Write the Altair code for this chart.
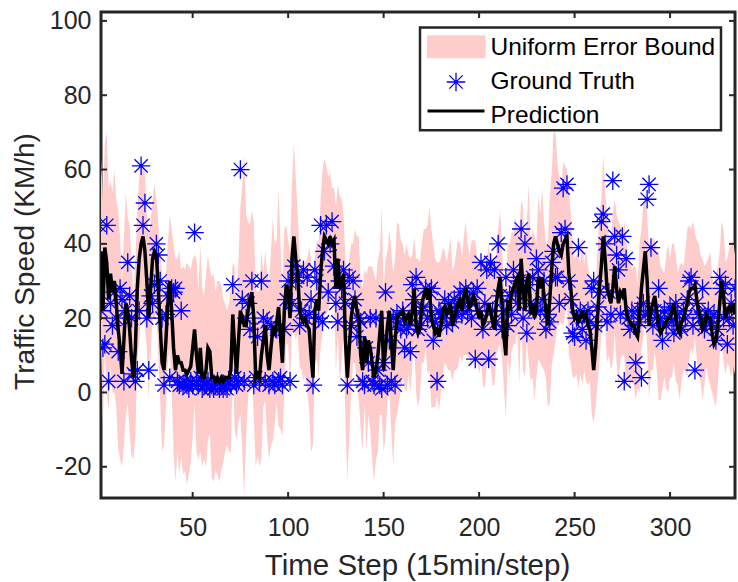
import altair as alt
import pandas as pd

steps = list(range(1, 335))

prediction = [
    20, 38, 22, 39, 35, 25, 32, 27, 30, 24,
    17, 12, 5, 14, 24, 22, 17, 9, 4, 12,
    28, 36, 40, 42, 38, 30, 20, 28, 36, 38,
    37, 28, 18, 8, 6, 14, 24, 30, 22, 12,
    6, 10, 8, 8, 6, 6, 5, 6, 7, 12,
    17, 10, 5, 12, 4, 4, 6, 12, 11, 4,
    4, 3, 4, 3, 4, 3, 4, 4, 4, 6,
    21, 12, 5, 14, 22, 20, 18, 18, 22, 25,
    27, 20, 4, 5, 4, 10, 14, 18, 10, 6,
    12, 17, 16, 19, 23, 15, 8, 22, 29, 27,
    20, 36, 42, 36, 32, 22, 20, 19, 20, 18,
    17, 10, 4, 22, 25, 22, 32, 38, 42, 41,
    40, 42, 40, 41, 28, 36, 28, 30, 32, 14,
    4, 12, 20, 24, 26, 22, 20, 10, 6, 15,
    8, 14, 12, 8, 4, 6, 10, 16, 22, 6,
    12, 18, 22, 14, 6, 14, 20, 21, 21, 22,
    19, 20, 21, 18, 22, 28, 18, 16, 17, 24,
    26, 28, 25, 28, 20, 18, 16, 17, 15, 18,
    22, 23, 21, 22, 24, 18, 20, 22, 24, 25,
    22, 26, 28, 25, 23, 24, 26, 25, 22, 20,
    22, 18, 19, 21, 24, 22, 19, 17, 24, 28,
    31, 24, 15, 10, 25, 22, 27, 28, 30, 31,
    22, 36, 28, 22, 30, 32, 21, 24, 20, 22,
    31, 28, 31, 26, 22, 18, 25, 33, 40, 42,
    40, 38, 37, 40, 41, 42, 32, 28, 22, 20,
    21, 19, 20, 22, 20, 21, 18, 17, 12, 6,
    12, 20, 28, 34, 42, 36, 28, 26, 24, 28,
    34, 28, 24, 27, 26, 28, 22, 20, 19, 18,
    18, 16, 15, 20, 28, 33, 38, 30, 18, 22,
    24, 26, 22, 18, 16, 17, 18, 19, 20, 20,
    22, 24, 20, 17, 16, 19, 20, 22, 24, 27,
    28, 28, 29, 25, 22, 20, 17, 18, 21, 20,
    20, 16, 13, 14, 18, 24, 30, 26, 20, 22,
    23, 22, 24, 21,
]

ground_truth = [
    45, 22, 12, 13, 45, 3, 24, 18, 27, 20,
    11, 28, 25, 3, 22, 35, 26, 20, 5, 3,
    6, 22, 61, 45, 51, 20, 6, 26, 24, 29,
    40, 37, 30, 20, 2, 21, 26, 4, 28, 27,
    28, 3, 2, 22, 2, 3, 2, 1, 3, 2,
    43, 3, 2, 4, 1, 2, 2, 3, 1, 2,
    1, 2, 3, 1, 2, 1, 2, 1, 3, 2,
    29, 4, 2, 3, 60, 25, 3, 20, 24, 17,
    30, 2, 4, 15, 3, 30, 20, 3, 19, 2,
    18, 3, 2, 17, 3, 4, 2, 17, 25, 30,
    3, 24, 34, 30, 31, 18, 22, 33, 20, 31,
    21, 25, 2, 33, 30, 20, 45, 19, 38, 45,
    27, 40, 46, 34, 24, 19, 30, 28, 33, 24,
    2, 31, 18, 30, 25, 15, 20, 19, 3, 2,
    12, 8, 20, 3, 2, 20, 6, 2, 1, 8,
    27, 2, 14, 3, 20, 2, 21, 19, 17, 22,
    12, 17, 18, 11, 29, 25, 31, 17, 18, 22,
    23, 28, 20, 27, 28, 14, 19, 3, 22, 21,
    20, 25, 18, 24, 22, 19, 25, 21, 23, 27,
    21, 24, 28, 22, 25, 20, 27, 9, 28, 22,
    35, 17, 24, 33, 9, 35, 22, 33, 19, 40,
    26, 17, 22, 31, 18, 26, 21, 33, 27, 24,
    30, 44, 20, 40, 16, 29, 24, 31, 22, 36,
    33, 22, 25, 30, 17, 21, 19, 35, 38, 31,
    31, 24, 43, 55, 44, 56, 30, 25, 16, 15,
    20, 39, 22, 17, 21, 14, 22, 19, 28, 30,
    18, 23, 27, 46, 48, 40, 19, 27, 21, 57,
    42, 37, 33, 21, 42, 3, 36, 20, 17, 22,
    18, 8, 22, 19, 4, 24, 21, 52, 56, 39,
    18, 22, 20, 28, 20, 14, 22, 18, 20, 23,
    19, 16, 24, 21, 18, 17, 22, 20, 25, 30,
    31, 18, 6, 24, 21, 20, 28, 17, 19, 22,
    20, 18, 21, 14, 17, 31, 28, 20, 29, 13,
    20, 24, 18, 28,
]

bound_half_width = [
    18, 25, 30, 28, 35, 30, 25, 27, 30, 28,
    32, 30, 25, 28, 30, 25, 28, 26, 22, 24,
    20, 22, 20, 19, 21, 18, 22, 18, 16, 18,
    15, 18, 20, 24, 20, 18, 16, 18, 22, 28,
    30, 26, 30, 25, 28, 27, 30, 28, 26, 24,
    20, 26, 23, 28, 24, 22, 26, 25, 22, 27,
    28, 24, 26, 27, 25, 22, 20, 18, 20, 22,
    14, 22, 18, 22, 28, 36, 46, 30, 24, 20,
    22, 26, 24, 22, 24, 28, 18, 20, 22, 24,
    26, 30, 24, 22, 32, 25, 20, 22, 16, 14,
    18, 20, 25, 22, 16, 15, 14, 16, 15, 18,
    22, 26, 18, 14, 16, 18, 20, 22, 21, 20,
    18, 17, 15, 14, 22, 20, 25, 22, 16, 22,
    28, 24, 20, 16, 18, 20, 22, 20, 22, 18,
    24, 20, 22, 26, 28, 24, 26, 22, 28, 22,
    24, 20, 22, 24, 26, 22, 26, 24, 20, 18,
    18, 20, 16, 18, 15, 14, 18, 20, 18, 16,
    18, 16, 20, 22, 24, 22, 20, 18, 20, 18,
    17, 15, 14, 16, 18, 15, 14, 16, 17, 15,
    14, 16, 18, 15, 14, 17, 15, 16, 14, 15,
    14, 16, 18, 14, 16, 14, 17, 15, 14, 16,
    18, 15, 14, 17, 15, 18, 16, 15, 17, 14,
    20, 16, 22, 18, 16, 24, 18, 20, 22, 18,
    22, 20, 24, 20, 18, 22, 28, 26, 30, 28,
    22, 20, 18, 22, 20, 18, 22, 20, 18, 16,
    16, 18, 15, 20, 14, 18, 16, 14, 18, 14,
    16, 18, 20, 18, 22, 18, 20, 16, 18, 20,
    18, 20, 22, 18, 16, 18, 20, 16, 18, 15,
    16, 18, 14, 20, 16, 18, 16, 18, 20, 16,
    18, 15, 16, 20, 18, 16, 14, 18, 20, 16,
    18, 16, 17, 15, 18, 16, 14, 16, 20, 18,
    16, 18, 14, 16, 18, 17, 19, 16, 14, 16,
    18, 16, 15, 18, 16, 14, 16, 18, 15, 14,
    16, 18, 17, 16,
]

x_ticks = [50, 100, 150, 200, 250, 300]
y_ticks = [-20, 0, 20, 40, 60, 80, 100]

legend_labels = ["Uniform Error Bound", "Ground Truth", "Prediction"]

df = pd.DataFrame({
    "step": steps,
    "pred": prediction,
    "truth": ground_truth,
    "w": bound_half_width,
})
df["upper"] = df["pred"] + df["w"]
df["lower"] = df["pred"] - df["w"]

W, H = 634, 486
FONT = "Liberation Sans"
TXT = "#262626"
PINK = "#ffcccc"
BLUE = "#0000ff"
STAR = "M-1,0L1,0M0,-1L0,1M-0.72,-0.72L0.72,0.72M-0.72,0.72L0.72,-0.72"
X_TITLE = "Time Step (15min/step)"
Y_TITLE = "Traffic Speed (KM/h)"

xs = alt.Scale(domain=[2, 334], nice=False, zero=False)
ys = alt.Scale(domain=[-28.4, 102.4], nice=False, zero=False)

x_axis = alt.Axis(
    values=x_ticks, title=X_TITLE, grid=False, domain=False,
    ticks=False, labelPadding=17, labelFontSize=25, labelFont=FONT,
    labelColor=TXT, titleFont=FONT, titleFontSize=29.5, titleFontWeight="normal",
    titleColor=TXT, titleX=316, titleY=67, titleBaseline="middle",
    titleAlign="center", labelExpr="'' + datum.value",
)
y_axis = alt.Axis(
    values=y_ticks, title=Y_TITLE, grid=False, domain=False,
    ticks=False, labelPadding=10, labelFontSize=25, labelFont=FONT,
    labelColor=TXT, titleFont=FONT, titleFontSize=28, titleFontWeight="normal",
    titleColor=TXT, titleX=-76, titleY=249, titleAngle=-90,
    titleBaseline="middle", titleAlign="center",
    labelExpr="'' + datum.value",
)


def X(field):
    return alt.X(field, scale=xs, axis=x_axis, title=X_TITLE)


def Y(field):
    return alt.Y(field, scale=ys, axis=y_axis, title=Y_TITLE)


base = alt.Chart(df)

band = base.mark_area(color=PINK, opacity=1, clip=True).encode(
    x=X("step:Q"), y=Y("upper:Q"), y2="lower:Q",
)

truth = base.mark_point(
    shape=STAR, filled=False, size=340, strokeWidth=1.3, color=BLUE,
    opacity=1, clip=True,
).encode(x=X("step:Q"), y=Y("truth:Q"))

pred = base.mark_line(color="black", strokeWidth=3.5, clip=True).encode(
    x=X("step:Q"), y=Y("pred:Q"),
)

xt = alt.Chart(pd.DataFrame({"t": x_ticks}))
yt = alt.Chart(pd.DataFrame({"t": y_ticks}))
TL = 6
tick_b = xt.mark_rule(color=TXT, strokeWidth=2).encode(
    x=X("t:Q"), y=alt.value(H), y2=alt.value(H - TL))
tick_t = xt.mark_rule(color=TXT, strokeWidth=2).encode(
    x=X("t:Q"), y=alt.value(0), y2=alt.value(TL))
tick_l = yt.mark_rule(color=TXT, strokeWidth=2).encode(
    y=Y("t:Q"), x=alt.value(0), x2=alt.value(TL))
tick_r = yt.mark_rule(color=TXT, strokeWidth=2).encode(
    y=Y("t:Q"), x=alt.value(W), x2=alt.value(W - TL))

one = alt.Chart(pd.DataFrame({"k": [0]}))
leg_box = one.mark_rect(fill="white", stroke=TXT, strokeWidth=2.5).encode(
    x=alt.value(319), x2=alt.value(620), y=alt.value(15.6), y2=alt.value(118.3))
leg_swatch = one.mark_rect(fill=PINK).encode(
    x=alt.value(326), x2=alt.value(384.5), y=alt.value(23.3), y2=alt.value(46.3))
leg_star = one.mark_point(
    shape=STAR, filled=False, size=340, strokeWidth=1.3, color=BLUE, opacity=1
).encode(x=alt.value(355), y=alt.value(70))
leg_line = one.mark_rule(color="black", strokeWidth=3).encode(
    x=alt.value(326.5), x2=alt.value(383.5), y=alt.value(99))

leg_text_layers = []
for lab, yy in zip(legend_labels, [35.5, 70, 103.5]):
    leg_text_layers.append(
        one.mark_text(align="left", baseline="middle", font=FONT, fontSize=24.5,
                      color="black").encode(
            x=alt.value(389.5), y=alt.value(yy), text=alt.value(lab))
    )

chart = alt.layer(
    band, truth, pred, tick_b, tick_t, tick_l, tick_r,
    leg_box, leg_swatch, leg_star, leg_line, *leg_text_layers,
).properties(
    width=W, height=H,
    autosize=alt.AutoSizeParams(type="none"),
    padding={"left": 101, "top": 12, "right": 3, "bottom": 84},
    background="white",
).configure_view(stroke=TXT, strokeWidth=3)

chart.save("out.html", embed_options={"renderer": "svg", "actions": False})
